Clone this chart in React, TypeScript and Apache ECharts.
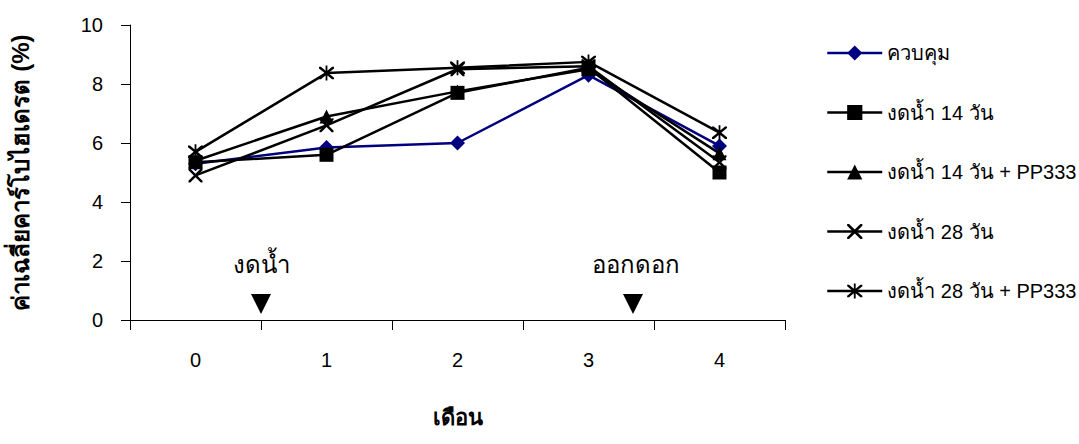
import React, { useEffect, useRef } from "react";
import * as echarts from "echarts";

const months = ["0", "1", "2", "3", "4"];
const seriesNames = [
  "ควบคุม",
  "งดน้ำ 14 วัน",
  "งดน้ำ 14 วัน + PP333",
  "งดน้ำ 28 วัน",
  "งดน้ำ 28 วัน + PP333",
];
const control = [5.3, 5.85, 6.0, 8.3, 5.9];
const drought14 = [5.35, 5.6, 7.7, 8.55, 5.0];
const drought14pp = [5.4, 6.9, 7.75, 8.5, 5.65];
const drought28 = [4.9, 6.6, 8.5, 8.6, 5.35];
const drought28pp = [5.7, 8.37, 8.55, 8.75, 6.35];
const yTitle = "ค่าเฉลี่ยคาร์โบไฮเดรต (%)";
const xTitle = "เดือน";
const notes = ["งดน้ำ", "ออกดอก"];

const X_PATH =
  "path://M0,0 L2.5,0 L10,7.5 L17.5,0 L20,0 L20,2.5 L12.5,10 L20,17.5 L20,20 L17.5,20 L10,12.5 L2.5,20 L0,20 L0,17.5 L7.5,10 L0,2.5 Z";
const STAR_PATH =
  "path://M0,0 L2.5,0 L10,7.5 L17.5,0 L20,0 L20,2.5 L12.5,10 L20,17.5 L20,20 L17.5,20 L10,12.5 L2.5,20 L0,20 L0,17.5 L7.5,10 L0,2.5 Z M8.8,-2 L11.2,-2 L11.2,22 L8.8,22 Z";

const FONT = "'Liberation Sans', Arial, 'Noto Sans', sans-serif";

export default function App() {
  const ref = useRef<HTMLDivElement>(null);
  useEffect(() => {
    if (!ref.current) return;
    const chart = echarts.init(ref.current, undefined, { renderer: "svg" });
    const mk = (name: string, data: number[], symbol: string, size: number, color: string) => ({
      name,
      type: "line",
      data,
      symbol,
      symbolSize: size,
      lineStyle: { color, width: 2.5 },
      itemStyle: { color, borderWidth: 0 },
      emphasis: { disabled: true },
    });
    chart.setOption({
      animation: false,
      textStyle: { fontFamily: FONT },
      grid: { left: 128, top: 25, width: 657, height: 295 },
      legend: {
        orient: "vertical",
        left: 821,
        top: 37,
        itemWidth: 55,
        itemHeight: 19,
        itemGap: 37.5,
        data: seriesNames,
        lineStyle: { width: 2.5 },
        textStyle: { fontSize: 20, color: "#000", lineHeight: 22, fontFamily: FONT },
      },
      xAxis: {
        type: "category",
        data: months,
        boundaryGap: true,
        axisLine: { lineStyle: { color: "#000", width: 1 } },
        axisTick: { show: true, length: 10, alignWithLabel: false, lineStyle: { color: "#000" } },
        axisLabel: { color: "#000", fontSize: 20, margin: 30 },
        name: xTitle,
        nameLocation: "middle",
        nameGap: 86,
        nameTextStyle: { color: "#000", fontSize: 22, fontWeight: "bold" },
      },
      yAxis: {
        type: "value",
        min: 0,
        max: 10,
        interval: 2,
        splitLine: { show: false },
        axisLine: { show: true, lineStyle: { color: "#000", width: 1 } },
        axisTick: { show: true, length: 9, lineStyle: { color: "#000" } },
        axisLabel: { color: "#000", fontSize: 20, margin: 27 },
        name: yTitle,
        nameLocation: "middle",
        nameRotate: 90,
        nameGap: 98,
        nameTextStyle: { color: "#000", fontSize: 24, fontWeight: "bold" },
      },
      series: [
        mk(seriesNames[0], control, "diamond", 15, "#000080"),
        mk(seriesNames[1], drought14, "rect", 14, "#000"),
        mk(seriesNames[2], drought14pp, "triangle", 14, "#000"),
        mk(seriesNames[3], drought28, X_PATH, 14, "#000"),
        mk(seriesNames[4], drought28pp, STAR_PATH, 15, "#000"),
      ],
      graphic: [
        {
          type: "text",
          x: 261,
          y: 276,
          style: { text: notes[0], fill: "#000", align: "center", verticalAlign: "bottom", font: `24px ${FONT}` },
        },
        {
          type: "text",
          x: 636,
          y: 276,
          style: { text: notes[1], fill: "#000", align: "center", verticalAlign: "bottom", font: `24px ${FONT}` },
        },
        {
          type: "polygon",
          shape: { points: [[251, 294], [271, 294], [261, 314]] },
          style: { fill: "#000" },
        },
        {
          type: "polygon",
          shape: { points: [[623, 294], [643, 294], [633, 314]] },
          style: { fill: "#000" },
        },
      ],
    });
    return () => chart.dispose();
  }, []);
  return (
    <div
      ref={ref}
      style={{ position: "fixed", left: 0, top: 0, width: 1079, height: 444, background: "#fff" }}
    />
  );
}
